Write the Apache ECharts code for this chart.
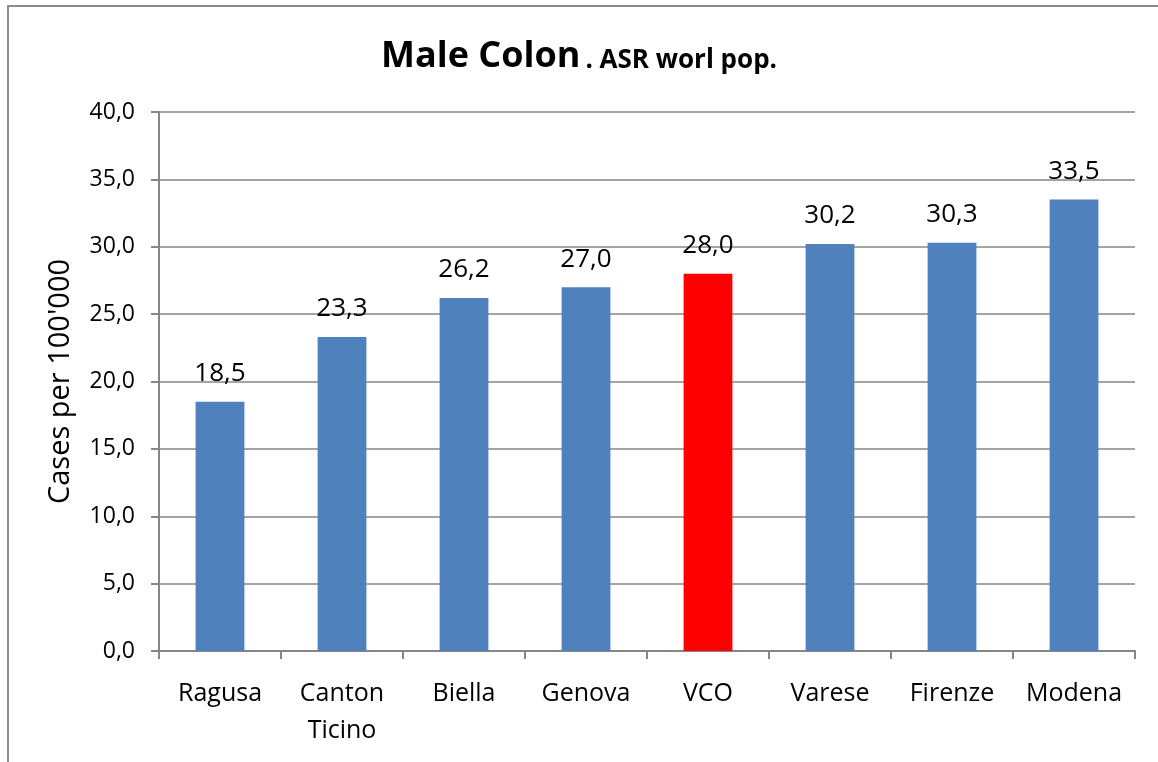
<!DOCTYPE html>
<html>
<head>
<meta charset="utf-8">
<script src="https://cdn.jsdelivr.net/npm/echarts@6/dist/echarts.min.js"></script>
<style>
  html, body { margin: 0; padding: 0; background: #fff; overflow: hidden; }
  .frame {
    position: absolute;
    left: 7px;
    top: 5px;
    width: 1200px;
    height: 800px;
    border: 2px solid #8c8c8c;
    box-sizing: border-box;
  }
  #chart { position: absolute; left: 0; top: 0; width: 1158px; height: 762px; }
</style>
</head>
<body>
<div class="frame"></div>
<div id="chart"></div>
<script>
const categories = ['Ragusa', 'Canton\nTicino', 'Biella', 'Genova', 'VCO', 'Varese', 'Firenze', 'Modena']
const values = [18.5, 23.3, 26.2, 27.0, 28.0, 30.2, 30.3, 33.5]
const highlight = 'VCO'

const fontFamily = '"Open Sans", "Noto Sans", sans-serif'
const fmt = v => v.toFixed(1).replace('.', ',')

const chart = echarts.init(document.getElementById('chart'))

chart.setOption({
  animation: false,
  title: {
    text: '{big|Male Colon} {small|. ASR worl pop.}',
    left: 'center',
    top: 34,
    textStyle: {
      rich: {
        big: { fontSize: 36, fontWeight: 'bold', color: '#000', fontFamily },
        small: { fontSize: 26, fontWeight: 'bold', color: '#000', fontFamily, padding: [8, 0, 0, 0] }
      }
    }
  },
  grid: { left: 159, right: 23, top: 112, bottom: 111 },
  xAxis: {
    type: 'category',
    data: categories,
    axisLine: { lineStyle: { color: '#868686', width: 2 } },
    axisTick: { show: true, length: 8, lineStyle: { color: '#868686', width: 2 } },
    axisLabel: { color: '#000', fontSize: 25, fontFamily, margin: 24, lineHeight: 37, interval: 0 }
  },
  yAxis: {
    type: 'value',
    min: 0,
    max: 40,
    interval: 5,
    name: "Cases per 100'000",
    nameLocation: 'middle',
    nameGap: 84,
    nameTextStyle: { color: '#000', fontSize: 29, fontFamily },
    axisLine: { show: true, lineStyle: { color: '#868686', width: 2 } },
    axisTick: { show: true, length: 8, lineStyle: { color: '#868686', width: 2 } },
    splitLine: { lineStyle: { color: '#868686', width: 1.5 } },
    axisLabel: { color: '#000', fontSize: 23, fontFamily, margin: 24, formatter: v => fmt(v) }
  },
  series: [{
    type: 'bar',
    data: values.map((v, i) => ({
      value: v,
      itemStyle: { color: categories[i] === highlight ? '#ff0000' : '#4f81bd' }
    })),
    barWidth: '40%',
    label: {
      show: true,
      position: 'top',
      distance: 15,
      color: '#000',
      fontSize: 26,
      fontFamily,
      formatter: p => fmt(p.value)
    }
  }]
})
</script>
</body>
</html>
